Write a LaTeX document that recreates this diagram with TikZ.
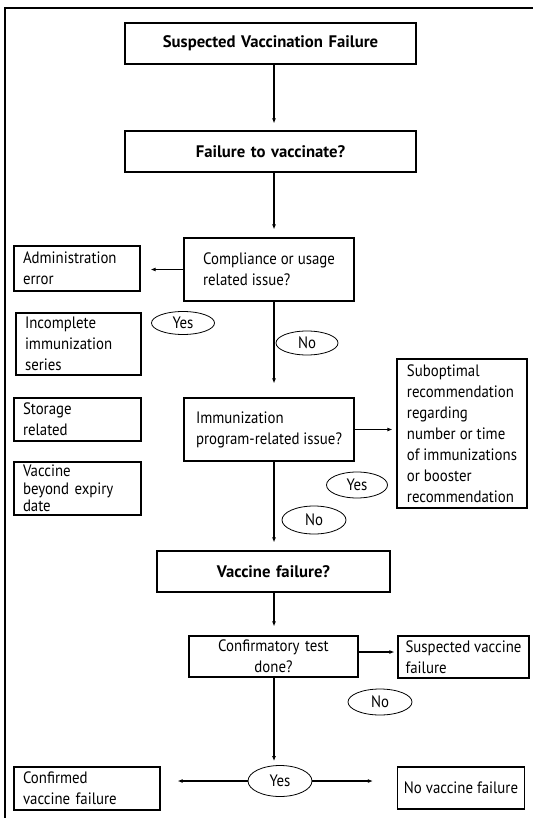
\documentclass[tikz,border=0pt]{standalone}
\usepackage{fontspec}
\setmainfont{PT Sans}[FakeStretch=0.9]
\newfontfamily\headfam{PT Sans}
\usetikzlibrary{arrows.meta,shapes.geometric}
\hyphenpenalty=10000\relax
\exhyphenpenalty=10000\relax
\tikzset{
  bx/.style={draw, line width=1.2pt, inner xsep=9pt, inner ysep=0pt, align=left,
    font=\fontsize{16.5}{21}\selectfont},
  bxc/.style={bx, align=center},
  bxb/.style={bx, align=center, font=\headfam\fontsize{16.7}{21}\selectfont\bfseries},
  lab/.style={draw, ellipse, line width=0.8pt, inner sep=0pt, font=\fontsize{16.5}{18}\selectfont},
  arr/.style={line width=1.1pt, -{Latex[length=5pt,width=4pt]}}
}
\begin{document}
\begin{tikzpicture}[x=1pt,y=-1pt]
\useasboundingbox (0,0) rectangle (533,818);
\draw[line width=1.5pt] (5,818) -- (5,8) -- (533,8);
\coordinate (sp) at (274,0);
% main column
\node[bxb, text width=273pt, minimum height=41pt] (b1) at (270.5,43.5) {Suspected Vaccination Failure};
\node[bxb, text width=273pt, minimum height=41pt] (b2) at (270.5,151.5) {Failure to vaccinate?};
\node[bx, inner xsep=0pt, minimum width=170pt, minimum height=63pt] (b3) at (269,269.5) {Compliance or usage\\related issue?\hspace*{20pt}};
\node[bx, inner xsep=0pt, minimum width=170pt, minimum height=63pt] (b4) at (269,429.5) {Immunization\\program-related issue?};
\node[bxb, text width=215pt, minimum height=41pt] (b5) at (273.5,571.5) {Vaccine failure?};
\node[bxc, text width=151pt, minimum height=41pt] (b6) at (273.5,656.5) {Confirmatory test\\done?};
% left column
\node[bx, text width=108pt, minimum height=45pt] (adm) at (77,268.5) {Administration\\error};
\node[bx, text width=107pt, minimum height=62pt] (inc) at (78.5,344) {Incomplete\\immunization\\series};
\node[bx, text width=109pt, minimum height=43pt] (sto) at (77.5,419.5) {Storage\\related};
\node[bx, text width=109pt, minimum height=53pt, font=\fontsize{16.5}{17.5}\selectfont] (exp) at (77.5,488.5) {Vaccine\\beyond expiry\\date};
\node[bx, text width=128pt, minimum height=43pt] (cvf) at (87,788.5) {Confirmed\\vaccine failure};
% right column
\node[bx, inner xsep=0pt, minimum width=130pt, minimum height=149pt] (sub) at (462,433.5) {Suboptimal\\recommendation\\regarding\\number or time\\of immunizations\\or booster\\recommendation};
\node[bx, inner xsep=0pt, minimum width=131pt, minimum height=42pt] (svf) at (463.5,657) {Suspected vaccine\\failure};
\node[bx, inner xsep=0pt, minimum width=127pt, minimum height=42pt] (nvf) at (461,788) {No vaccine failure};
% labels
\node[lab, minimum width=63pt, minimum height=23pt] (y1) at (183,323) {Yes};
\node[lab, minimum width=62pt, minimum height=24pt] (n1) at (307,343) {No};
\node[lab, minimum width=61pt, minimum height=26pt] (y2) at (357,485) {Yes};
\node[lab, minimum width=64pt, minimum height=28pt] (n2) at (314,520) {No};
\node[lab, minimum width=64pt, minimum height=26pt] (n3) at (380,702) {No};
\node[lab, minimum width=64pt, minimum height=31pt] (y3) at (280,781) {Yes};
% connectors
\draw[arr, shorten >=7pt] (b1.south -| sp) -- (b2.north -| sp);
\draw[arr, shorten >=8pt] (b2.south -| sp) -- (b3.north -| sp);
\draw[arr, shorten >=10pt] (b3.west) -- (b3.west -| adm.east);
\draw[arr, shorten >=14pt] (b3.south -| sp) -- (b4.north -| sp);
\draw[arr, shorten >=4pt] (b4.east) -- (b4.east -| sub.west);
\draw[arr, shorten >=8pt] (b4.south -| sp) -- (b5.north -| sp);
\draw[arr, shorten >=9pt] (b5.south -| sp) -- (b6.north -| sp);
\draw[arr, shorten >=3pt] ([yshift=4.5pt]b6.east) -- ([yshift=4.5pt]b6.east -| svf.west);
\draw[arr, shorten >=4pt] (b6.south -| sp) -- (y3.north -| sp);
\draw[arr, shorten >=17pt] (y3.west) -- (y3.west -| cvf.east);
\draw[arr, shorten >=24pt] (y3.east) -- (y3.east -| nvf.west);
\end{tikzpicture}
\end{document}
